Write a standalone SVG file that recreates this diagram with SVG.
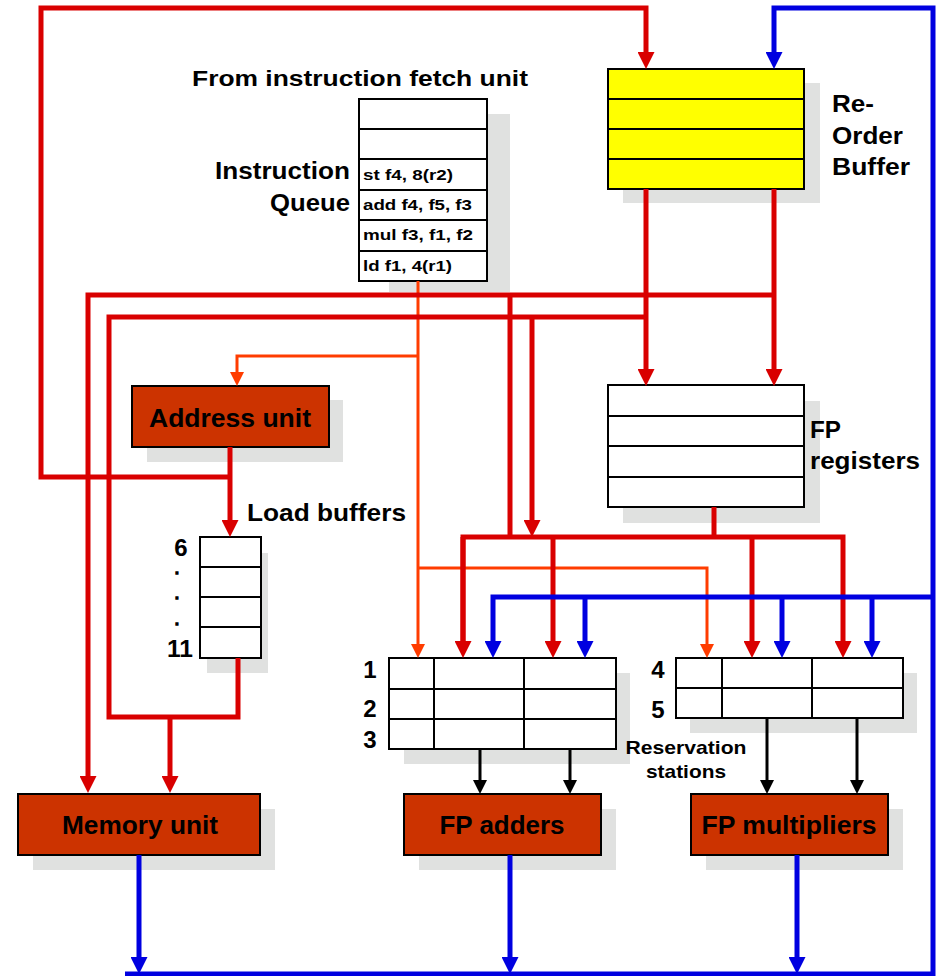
<svg xmlns="http://www.w3.org/2000/svg" width="938" height="976" viewBox="0 0 938 976">
<style>
text{font-family:"Liberation Sans",Arial,sans-serif;font-weight:bold;fill:#000}
.sh{fill:#e0e1e0}
.box{fill:#fff;stroke:#000;stroke-width:2}
.unit{fill:#cc3300;stroke:#000;stroke-width:2}
.rob{fill:#ffff00;stroke:#000;stroke-width:2}
.ln{stroke:#000;stroke-width:2;fill:none}
.r{stroke:#d90000;stroke-width:5;fill:none}
.o{stroke:#ff3c00;stroke-width:3;fill:none}
.b{stroke:#0000e0;stroke-width:5;fill:none}
.k{stroke:#000;stroke-width:3;fill:none}
.ra{marker-end:url(#aR)}
.oa{marker-end:url(#aO)}
.ba{marker-end:url(#aB)}
.ka{marker-end:url(#aK)}
.dot{stroke:#000;stroke-width:1.5}
</style>
<defs>
<marker id="aR" markerUnits="userSpaceOnUse" markerWidth="17" markerHeight="17" refX="5" refY="8.5" orient="auto"><path d="M0,0 L17,8.5 L0,17 z" fill="#d90000"/></marker>
<marker id="aB" markerUnits="userSpaceOnUse" markerWidth="17" markerHeight="17" refX="5" refY="8.5" orient="auto"><path d="M0,0 L17,8.5 L0,17 z" fill="#0000e0"/></marker>
<marker id="aO" markerUnits="userSpaceOnUse" markerWidth="14" markerHeight="14" refX="4" refY="7" orient="auto"><path d="M0,0 L14,7 L0,14 z" fill="#ff3c00"/></marker>
<marker id="aK" markerUnits="userSpaceOnUse" markerWidth="14" markerHeight="14" refX="4" refY="7" orient="auto"><path d="M0,0 L14,7 L0,14 z" fill="#000"/></marker>
</defs>
<rect width="938" height="976" fill="#fff"/>

<g id="instruction-queue">
<rect class="sh" x="389" y="114" width="121" height="178"/>
<rect class="box" x="359" y="99" width="128" height="182"/>
<path class="ln" d="M359,129H487M359,159H487M359,190H487M359,220H487M359,251H487"/>
<text x="363" y="180" font-size="15" textLength="90" lengthAdjust="spacingAndGlyphs">st f4, 8(r2)</text>
<text x="363" y="210" font-size="15" textLength="109" lengthAdjust="spacingAndGlyphs">add f4, f5, f3</text>
<text x="363" y="240" font-size="15" textLength="110" lengthAdjust="spacingAndGlyphs">mul f3, f1, f2</text>
<text x="363" y="271" font-size="15" textLength="89" lengthAdjust="spacingAndGlyphs">ld f1, 4(r1)</text>
<text x="192" y="86" font-size="22" textLength="336" lengthAdjust="spacingAndGlyphs">From instruction fetch unit</text>
<text x="350" y="179" font-size="23" text-anchor="end" textLength="135" lengthAdjust="spacingAndGlyphs">Instruction</text>
<text x="350" y="211" font-size="23" text-anchor="end" textLength="80" lengthAdjust="spacingAndGlyphs">Queue</text>
</g>

<g id="reorder-buffer">
<rect class="sh" x="623" y="83" width="197" height="120"/>
<rect class="rob" x="608" y="69" width="196" height="120"/>
<path class="ln" d="M608,99H804M608,129H804M608,159H804"/>
<text x="832" y="112" font-size="24" textLength="42" lengthAdjust="spacingAndGlyphs">Re-</text>
<text x="832" y="144" font-size="24" textLength="71" lengthAdjust="spacingAndGlyphs">Order</text>
<text x="832" y="175" font-size="24" textLength="78" lengthAdjust="spacingAndGlyphs">Buffer</text>
</g>

<g id="fp-registers">
<rect class="sh" x="623" y="401" width="197" height="122"/>
<rect class="box" x="608" y="385" width="196" height="122"/>
<path class="ln" d="M608,416H804M608,446H804M608,477H804"/>
<text x="810" y="438" font-size="24" textLength="31" lengthAdjust="spacingAndGlyphs">FP</text>
<text x="810" y="469" font-size="24" textLength="110" lengthAdjust="spacingAndGlyphs">registers</text>
</g>

<g id="address-unit">
<rect class="sh" x="147" y="400" width="196" height="62"/>
<rect class="unit" x="132" y="386" width="197" height="61"/>
<text x="230" y="427" font-size="25" text-anchor="middle" textLength="162" lengthAdjust="spacingAndGlyphs">Address unit</text>
</g>

<g id="load-buffers">
<rect class="sh" x="207" y="553" width="61" height="120"/>
<rect class="box" x="200" y="537" width="61" height="121"/>
<path class="ln" d="M200,567H261M200,597H261M200,627H261"/>
<text x="247" y="521" font-size="24" textLength="159" lengthAdjust="spacingAndGlyphs">Load buffers</text>
<text x="181" y="556" font-size="24" text-anchor="middle">6</text>
<text class="dot" x="177" y="574" font-size="12" text-anchor="middle">.</text>
<text class="dot" x="177" y="599" font-size="12" text-anchor="middle">.</text>
<text class="dot" x="177" y="625" font-size="12" text-anchor="middle">.</text>
<text x="180" y="657" font-size="24" text-anchor="middle" textLength="26" lengthAdjust="spacingAndGlyphs">11</text>
</g>

<g id="rs-adders">
<rect class="sh" x="404" y="673" width="226" height="91"/>
<rect class="box" x="389" y="658" width="227" height="91"/>
<path class="ln" d="M389,689H616M389,719H616M434,658V749M524,658V749"/>
<text x="370" y="678" font-size="24" text-anchor="middle">1</text>
<text x="370" y="717" font-size="24" text-anchor="middle">2</text>
<text x="370" y="748" font-size="24" text-anchor="middle">3</text>
</g>

<g id="rs-multipliers">
<rect class="sh" x="690" y="673" width="227" height="60"/>
<rect class="box" x="676" y="658" width="227" height="60"/>
<path class="ln" d="M676,688H903M722,658V718M812,658V718"/>
<text x="658" y="678" font-size="24" text-anchor="middle">4</text>
<text x="658" y="718" font-size="24" text-anchor="middle">5</text>
<text x="686" y="754" font-size="19" text-anchor="middle" textLength="121" lengthAdjust="spacingAndGlyphs">Reservation</text>
<text x="686" y="778" font-size="19" text-anchor="middle" textLength="80" lengthAdjust="spacingAndGlyphs">stations</text>
</g>

<g id="memory-unit">
<rect class="sh" x="33" y="809" width="242" height="61"/>
<rect class="unit" x="18" y="794" width="242" height="61"/>
<text x="140" y="834" font-size="25" text-anchor="middle" textLength="156" lengthAdjust="spacingAndGlyphs">Memory unit</text>
</g>

<g id="fp-adders">
<rect class="sh" x="419" y="809" width="197" height="61"/>
<rect class="unit" x="404" y="794" width="197" height="61"/>
<text x="502" y="834" font-size="25" text-anchor="middle" textLength="125" lengthAdjust="spacingAndGlyphs">FP adders</text>
</g>

<g id="fp-multipliers">
<rect class="sh" x="706" y="809" width="197" height="61"/>
<rect class="unit" x="691" y="794" width="197" height="61"/>
<text x="789" y="834" font-size="25" text-anchor="middle" textLength="175" lengthAdjust="spacingAndGlyphs">FP multipliers</text>
</g>

<g id="connectors">
<path class="o oa" d="M418,281V648"/>
<path class="o oa" d="M418,356H237V376"/>
<path class="o oa" d="M418,568H707V648"/>
<path class="r ra" d="M230,477H41V8H646V57"/>
<path class="r ra" d="M230,447V525"/>
<path class="r ra" d="M646,189V374"/>
<path class="r ra" d="M774,189V374"/>
<path class="r ra" d="M774,295H88V781"/>
<path class="r" d="M646,317H109V717H238V658"/>
<path class="r ra" d="M170,717V781"/>
<path class="r" d="M510,295V537"/>
<path class="r ra" d="M532,317V525"/>
<path class="r" d="M714,507V537"/>
<path class="r ra" d="M463,646V537H843V646"/>
<path class="r ra" d="M463,537V646"/>
<path class="r ra" d="M553,537V646"/>
<path class="r ra" d="M752,537V646"/>
<path class="b ba" d="M125,974H933V8H774V57"/>
<path class="b ba" d="M933,597H493V646"/>
<path class="b ba" d="M585,597V646"/>
<path class="b ba" d="M782,597V646"/>
<path class="b ba" d="M872,597V646"/>
<path class="b ba" d="M139,855V962"/>
<path class="b ba" d="M510,855V962"/>
<path class="b ba" d="M797,855V962"/>
<path class="k ka" d="M480,749V784"/>
<path class="k ka" d="M570,749V784"/>
<path class="k ka" d="M767,718V784" stroke-width="1.5"/>
<path class="k ka" d="M857,718V784"/>
</g>
</svg>
